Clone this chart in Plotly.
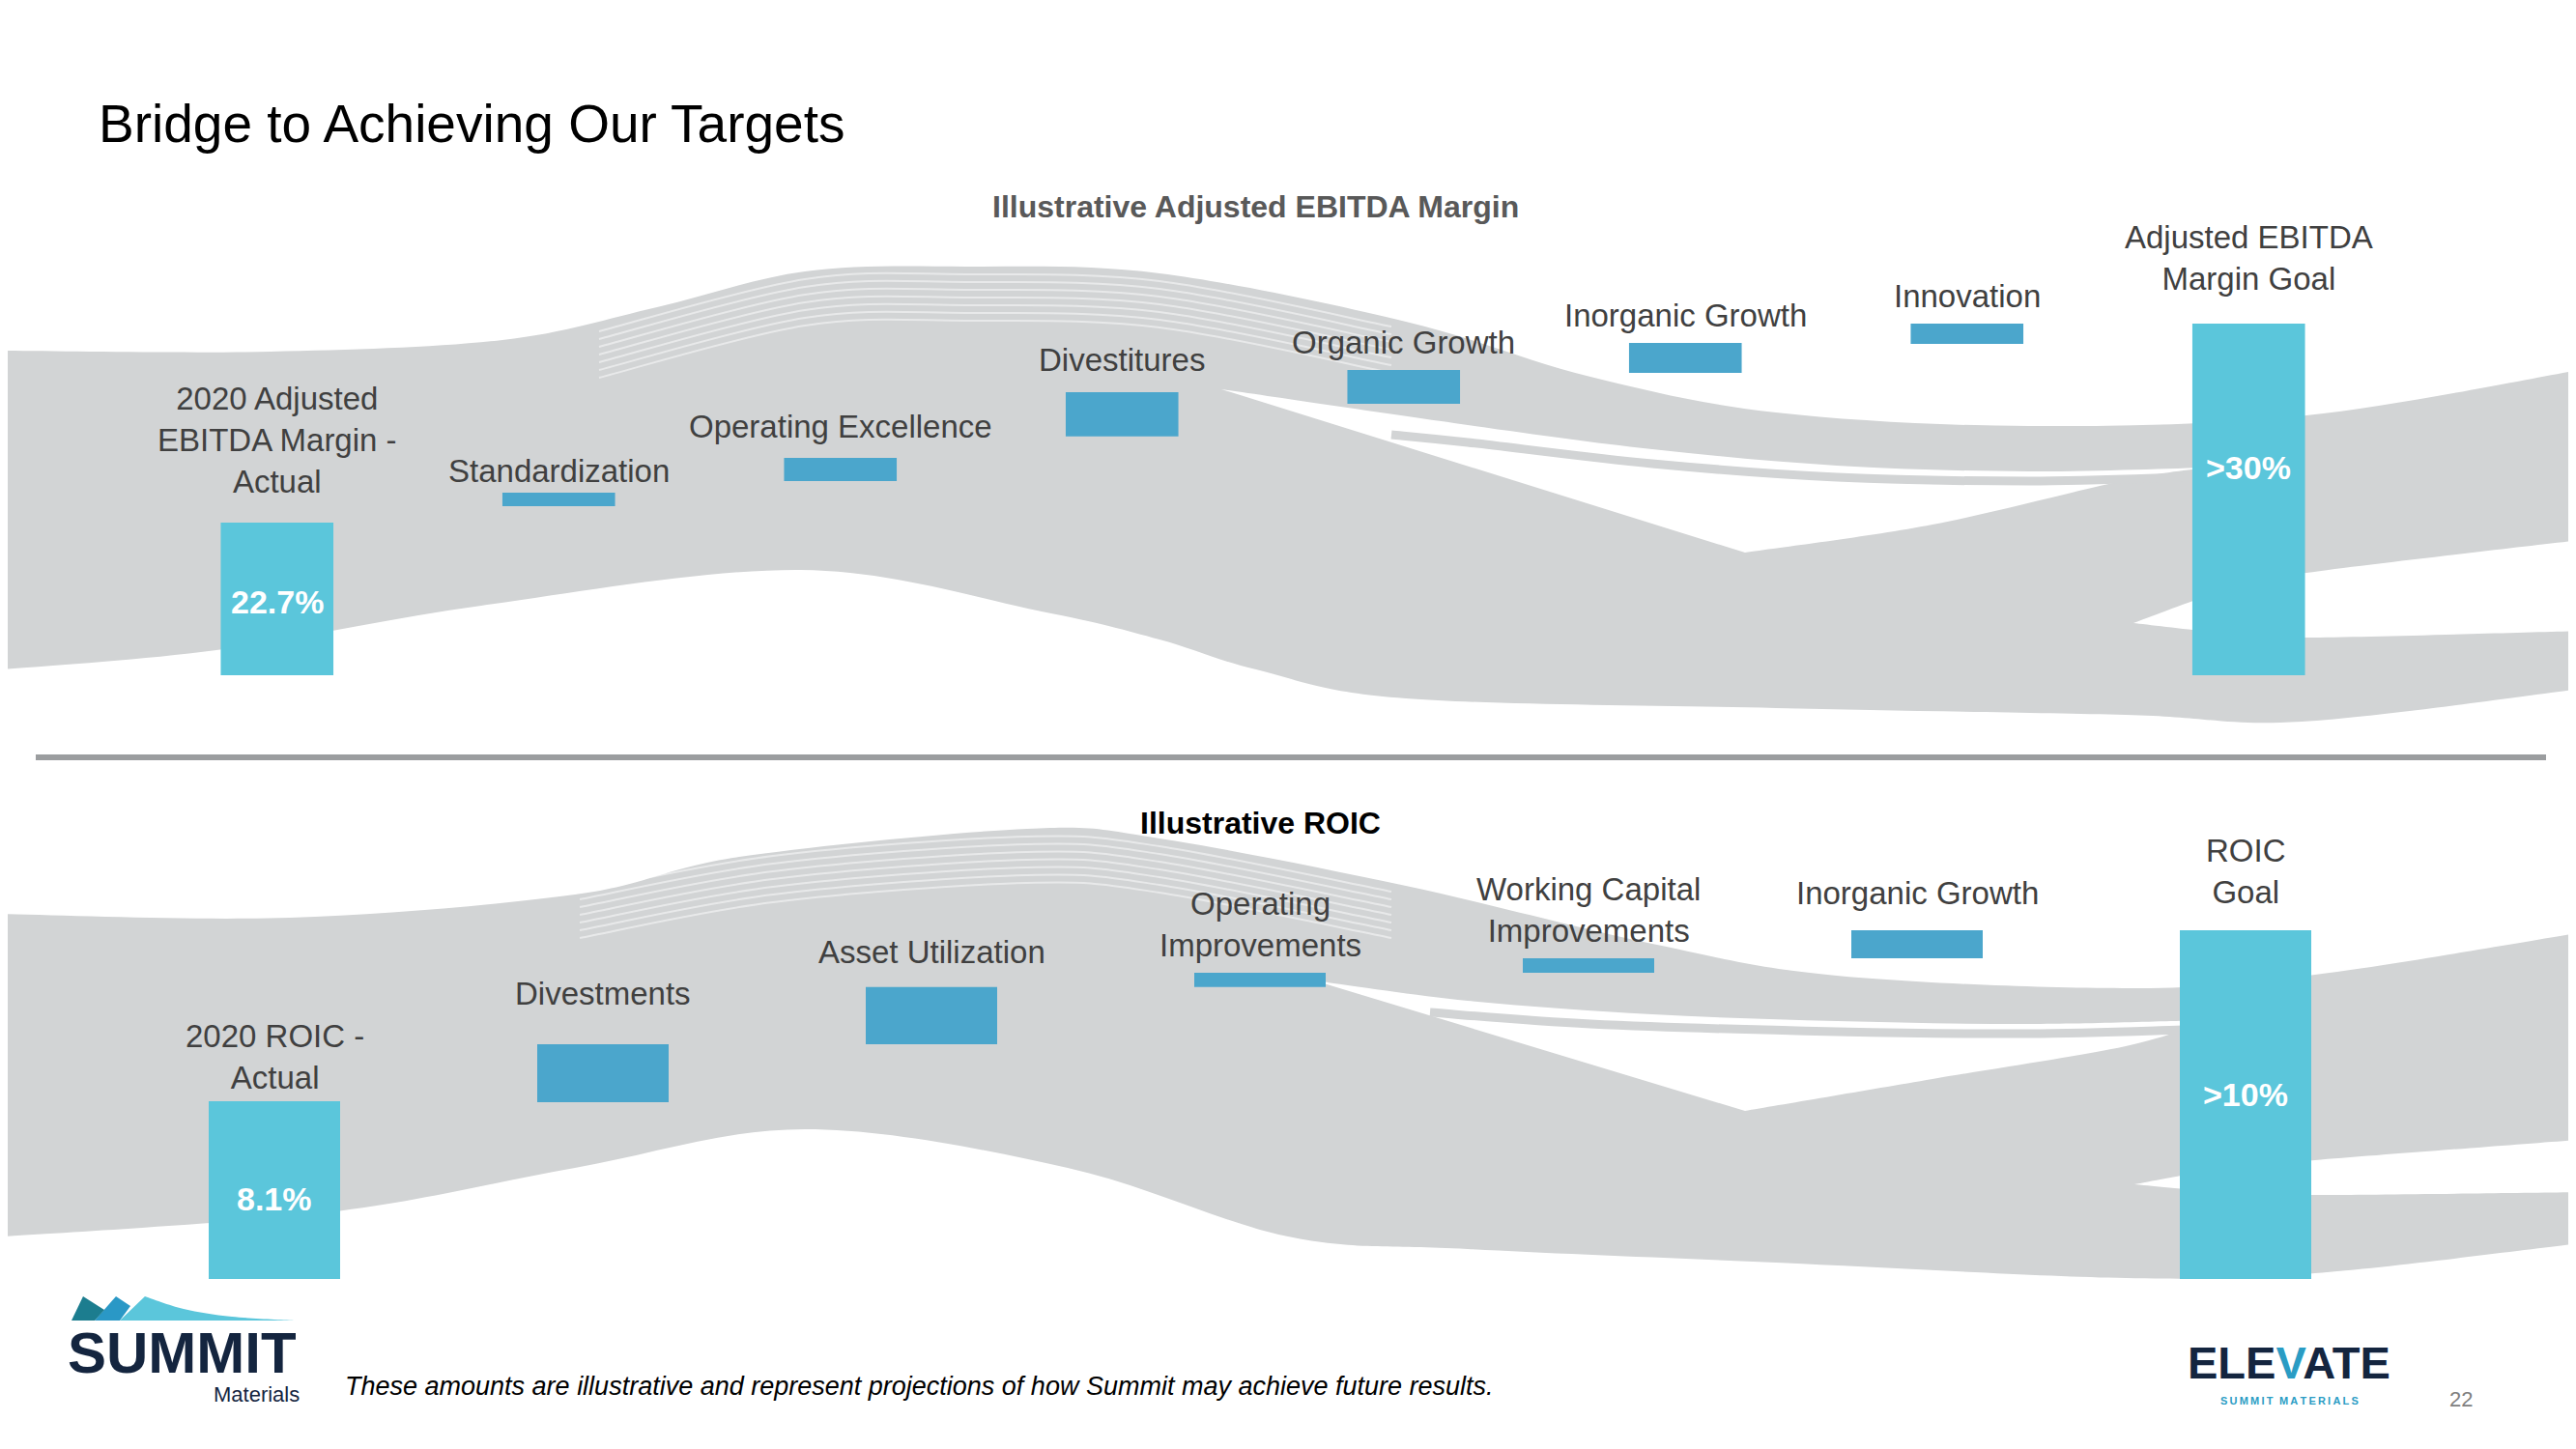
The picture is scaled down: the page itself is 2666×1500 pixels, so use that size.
import plotly.graph_objects as go

W, H = 2666, 1500          # page size
PAD = 8                    # browser body margin around the figure
FW, FH = W - 2 * PAD, H - 2 * PAD

# Illustrative bridge values (arbitrary illustrative scale, goal bar = 100)
ebitda_steps = ["2020 Adjusted<br>EBITDA Margin -<br>Actual", "Standardization",
                "Operating Excellence", "Divestitures", "Organic Growth",
                "Inorganic Growth", "Innovation", "Adjusted EBITDA<br>Margin Goal"]
ebitda_base = [0, 48.1, 55.2, 67.9, 77.2, 86.0, 94.2, 0]
ebitda_size = [43.4, 3.8, 6.6, 12.6, 9.6, 8.5, 5.8, 100]
ebitda_total = [True, False, False, False, False, False, False, True]
ebitda_value_text = ["22.7%", "", "", "", "", "", "", ">30%"]

roic_steps = ["2020 ROIC -<br>Actual", "Divestments", "Asset Utilization",
              "Operating<br>Improvements", "Working Capital<br>Improvements",
              "Inorganic Growth", "ROIC<br>Goal"]
roic_base = [0, 50.7, 67.3, 83.7, 87.8, 92.0, 0]
roic_size = [51.0, 16.6, 16.4, 4.1, 4.2, 8.0, 100]
roic_total = [True, False, False, False, False, False, True]
roic_value_text = ["8.1%", "", "", "", "", "", ">10%"]

# label tweaks (pixels above bar top, vertical spot of value text inside bar)
ebitda_label_lift = [22, 2, 12, 13, 8, 8, 8, 26]
roic_label_lift = [4, 32, 16, 8, 8, 18, 19]
ebitda_value_frac = [0.48, 0.59]
roic_value_frac = [0.45, 0.53]

TOTAL_COLOR = "#5bc6db"
STEP_COLOR = "#4ba6cc"
SWOOSH = "#d2d4d5"
LABEL = "#404040"
FONT = "Liberation Sans, Arial, sans-serif"


def fx(x):
    return (x - PAD) / FW


def fy(y):
    return 1 - (y - PAD) / FH


def P(pt):
    return f"{fx(pt[0]):.5f},{fy(pt[1]):.5f}"


def curve(pts):
    # catmull-rom through the points, as cubic bezier segments
    segs = []
    n = len(pts)
    for i in range(n - 1):
        p0 = pts[i - 1] if i > 0 else pts[i]
        p1, p2 = pts[i], pts[i + 1]
        p3 = pts[i + 2] if i + 2 < n else pts[i + 1]
        c1 = (p1[0] + (p2[0] - p0[0]) / 6, p1[1] + (p2[1] - p0[1]) / 6)
        c2 = (p2[0] - (p3[0] - p1[0]) / 6, p2[1] - (p3[1] - p1[1]) / 6)
        segs.append(f"C {P(c1)} {P(c2)} {P(p2)}")
    return " ".join(segs)


def blob(*edges):
    path = f"M {P(edges[0][0])} "
    for k, e in enumerate(edges):
        if k > 0:
            path += f" L {P(e[0])} "
        path += curve(e)
    return path + " Z"


def polygon(pts):
    return "M " + " L ".join(P(p) for p in pts) + " Z"


def fill_shape(path, color, opacity=1.0):
    return dict(type="path", path=path, xref="paper", yref="paper", fillcolor=color,
                opacity=opacity, line=dict(width=0), layer="below")


def line_shape(pts, color, width, opacity=1.0):
    return dict(type="path", path=f"M {P(pts[0])} " + curve(pts), xref="paper", yref="paper",
                line=dict(color=color, width=width), opacity=opacity, layer="below")


shapes = []

# ---- decorative swooshes, top panel
shapes.append(fill_shape(blob(
    [(0, 363), (280, 364), (520, 352), (680, 318), (833, 281), (1000, 276), (1200, 283),
     (1455, 333), (1646, 390), (1838, 427), (2100, 441), (2387, 430), (2680, 381)],
    [(2680, 712), (2382, 747), (2200, 740), (1838, 733), (1455, 723), (1300, 693),
     (1200, 662), (1078, 633), (829, 590), (498, 627), (224, 673), (-10, 694)]), SWOOSH))
shapes.append(fill_shape(blob(
    [(1264, 403), (1519, 440), (1710, 465), (1901, 482), (2100, 488), (2285, 484)],
    [(2285, 484), (2200, 497), (2000, 543), (1806, 572)]), "white"))
shapes.append(line_shape([(1440, 450), (1519, 458), (1710, 480), (1901, 494), (2100, 498),
                          (2260, 494)], SWOOSH, 9))
shapes.append(fill_shape(blob(
    [(2208, 645), (2300, 612), (2387, 593), (2680, 558)],
    [(2680, 653), (2387, 660), (2300, 655), (2208, 645)]), "white"))
for d in range(8, 64, 8):
    shapes.append(line_shape([(620, 335 + d), (833, 281 + d), (1000, 276 + d),
                              (1200, 283 + d), (1440, 330 + d)], "white", 2, 0.5))

# ---- decorative swooshes, bottom panel
shapes.append(fill_shape(blob(
    [(-10, 946), (300, 950), (595, 926), (765, 887), (1063, 858), (1200, 868), (1455, 917),
     (1710, 977), (1901, 1010), (2200, 1023), (2396, 1009), (2680, 964)],
    [(2680, 1286), (2396, 1318), (2200, 1323), (1838, 1307), (1519, 1293), (1333, 1280),
     (1105, 1209), (833, 1169), (595, 1209), (340, 1255), (-10, 1281)]), SWOOSH))
shapes.append(fill_shape(blob(
    [(1360, 1015), (1519, 1036), (1710, 1050), (1901, 1057), (2100, 1060), (2285, 1056)],
    [(2285, 1056), (2200, 1083), (2000, 1117), (1806, 1150)]), "white"))
shapes.append(line_shape([(1480, 1048), (1646, 1060), (1901, 1068), (2100, 1070),
                          (2260, 1066)], SWOOSH, 9))
shapes.append(fill_shape(blob(
    [(2209, 1226), (2300, 1210), (2396, 1201), (2680, 1179)],
    [(2680, 1234), (2396, 1237), (2300, 1234), (2209, 1226)]), "white"))
for d in range(8, 64, 8):
    shapes.append(line_shape([(600, 915 + d), (800, 878 + d), (1063, 858 + d),
                              (1200, 868 + d), (1440, 915 + d)], "white", 2, 0.5))

# separator
shapes.append(dict(type="line", xref="paper", yref="paper", x0=fx(37), x1=fx(2635),
                   y0=fy(784), y1=fy(784), line=dict(color="#9b9d9f", width=6)))

# summit mountain mark
shapes.append(fill_shape(
    f"M {P((124, 1367))} L {P((150, 1342))} " +
    curve([(150, 1342), (190, 1355), (240, 1363), (306, 1367)]) + " Z", "#5bc6db"))
shapes.append(fill_shape(polygon([(98, 1367), (120, 1342), (135, 1352), (124, 1367)]), "#2a98c6"))
shapes.append(fill_shape(polygon([(74, 1367), (86, 1342), (108, 1356), (98, 1367)]), "#1c7d8f"))

fig = go.Figure()
fig.add_trace(go.Bar(
    x=list(range(len(ebitda_steps))), y=ebitda_size, base=ebitda_base, width=0.4,
    marker=dict(color=[TOTAL_COLOR if t else STEP_COLOR for t in ebitda_total], line_width=0),
    xaxis="x", yaxis="y", hoverinfo="skip"))
fig.add_trace(go.Bar(
    x=list(range(len(roic_steps))), y=roic_size, base=roic_base, width=0.4,
    marker=dict(color=[TOTAL_COLOR if t else STEP_COLOR for t in roic_total], line_width=0),
    xaxis="x2", yaxis="y2", hoverinfo="skip"))

annotations = []


def step_labels(steps, base, size, lift, values, fracs, xr, yr):
    vi = 0
    for i, name in enumerate(steps):
        annotations.append(dict(
            x=i, y=base[i] + size[i], xref=xr, yref=yr, text=name, showarrow=False,
            yanchor="bottom", yshift=lift[i], font=dict(family=FONT, size=33, color=LABEL)))
        if values[i]:
            annotations.append(dict(
                x=i, y=base[i] + size[i] * fracs[vi], xref=xr, yref=yr, text=values[i],
                showarrow=False, font=dict(family=FONT, size=34, color="white", weight="bold")))
            vi += 1


step_labels(ebitda_steps, ebitda_base, ebitda_size, ebitda_label_lift, ebitda_value_text,
            ebitda_value_frac, "x", "y")
step_labels(roic_steps, roic_base, roic_size, roic_label_lift, roic_value_text,
            roic_value_frac, "x2", "y2")


def page_text(text, x, y, size, color, xanchor="center", weight="normal"):
    annotations.append(dict(text=text, x=fx(x), y=fy(y), xref="paper", yref="paper",
                            xanchor=xanchor, yanchor="middle", showarrow=False,
                            font=dict(family=FONT, size=size, color=color, weight=weight)))


spaced = "\u2009\u2009\u2009".join("\u2009".join(w) for w in ["SUMMIT", "MATERIALS"])

page_text("Bridge to Achieving Our Targets", 100, 128, 55, "black", xanchor="left")
page_text("Illustrative Adjusted EBITDA Margin", 1299, 214, 32, "#595959", weight="bold")
page_text("Illustrative ROIC", 1304, 852, 32, "black", weight="bold")
page_text("<i>These amounts are illustrative and represent projections of how Summit may achieve future results.</i>",
          355, 1435, 27, "black", xanchor="left")
page_text("SUMMIT", 68, 1400, 60, "#14253f", xanchor="left", weight="bold")
page_text("Materials", 312, 1443, 22, "#14253f", xanchor="right")
page_text("ELE<span style='color:#2a9cc4'>V</span>ATE", 2369, 1410, 47, "#14253f", weight="bold")
page_text(spaced, 2369, 1450, 11, "#2a9cc4", weight="bold")
page_text("22", 2547, 1448, 22, "#808080")

fig.update_layout(
    width=FW, height=FH,
    margin=dict(l=0, r=0, t=0, b=0),
    paper_bgcolor="white", plot_bgcolor="rgba(0,0,0,0)",
    showlegend=False, barmode="overlay",
    xaxis=dict(domain=[fx(141), fx(2473)], range=[-0.5, 7.5], visible=False, anchor="y"),
    yaxis=dict(domain=[fy(699), fy(189.4)], range=[0, 140], visible=False, anchor="x"),
    xaxis2=dict(domain=[fx(114), fx(2494)], range=[-0.5, 6.5], visible=False, anchor="y2"),
    yaxis2=dict(domain=[fy(1324), fy(854.7)], range=[0, 130], visible=False, anchor="x2"),
    shapes=shapes,
    annotations=annotations,
)

fig.write_html("out.html")
